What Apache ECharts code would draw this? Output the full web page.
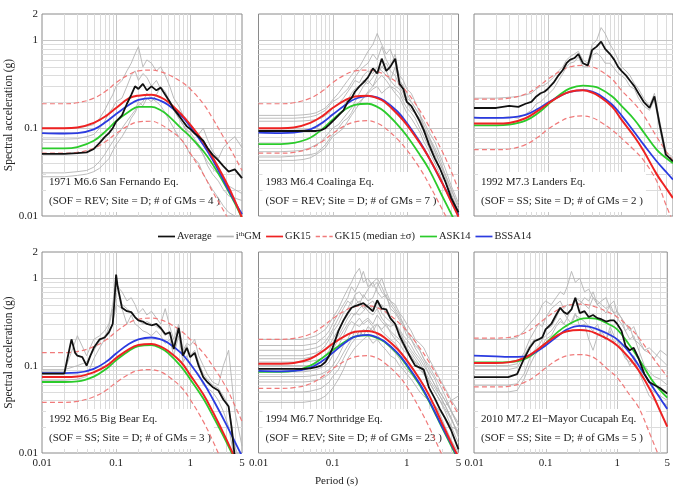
<!DOCTYPE html>
<html><head><meta charset="utf-8">
<script src="https://cdn.jsdelivr.net/npm/echarts@6/dist/echarts.min.js"></script>
<style>html,body{margin:0;padding:0;background:#fff}#c{width:673px;height:491px}</style>
</head><body><div id="c"></div>
<script>
// ---- periods ----
const periodsModel = [0.01,0.02,0.03,0.05,0.075,0.1,0.15,0.2,0.3,0.4,0.5,0.75,1,1.5,2,3,4,5];
const periodsRec = [0.01,0.02,0.03,0.04,0.05,0.06,0.07,0.08,0.09,0.1,0.12,0.14,0.16,0.18,0.2,0.23,0.26,0.3,0.35,0.4,0.46,0.53,0.6,0.7,0.8,0.9,1,1.15,1.3,1.5,1.7,2,2.4,2.8,3.3,4,5];
const periodsBigBearAvg = [0.01,0.02,0.022,0.025,0.028,0.03,0.035,0.04,0.045,0.05,0.06,0.07,0.08,0.09,0.095,0.1,0.105,0.11,0.12,0.14,0.16,0.18,0.2,0.23,0.26,0.3,0.35,0.4,0.46,0.53,0.6,0.7,0.8,0.9,1,1.15,1.3,1.5,1.7,2,2.4,2.8,3.3,3.6,4];
const gridTicksX = [0.02,0.03,0.04,0.05,0.06,0.07,0.08,0.09,0.1,0.2,0.3,0.4,0.5,0.6,0.7,0.8,0.9,1,2,3,4];
const gridTicksY = [0.02,0.03,0.04,0.05,0.06,0.07,0.08,0.09,0.1,0.2,0.3,0.4,0.5,0.6,0.7,0.8,0.9,1];

// ---- 1971 San Fernando ----
const sfGK15 = [0.1,0.1,0.102,0.115,0.14,0.17,0.22,0.235,0.24,0.225,0.2,0.145,0.11,0.07,0.047,0.025,0.015,0.0095];
const sfGK15Up = [0.19,0.19,0.195,0.22,0.27,0.33,0.41,0.45,0.46,0.44,0.41,0.34,0.28,0.19,0.13,0.072,0.047,0.033];
const sfGK15Lo = [0.052,0.052,0.053,0.059,0.072,0.087,0.108,0.118,0.12,0.11,0.098,0.075,0.052,0.03,0.019,0.0105,0.0065,0.0045];
const sfASK14 = [0.059,0.059,0.061,0.072,0.095,0.12,0.155,0.175,0.175,0.16,0.14,0.1,0.08,0.055,0.039,0.022,0.014,0.0095];
const sfBSSA14 = [0.088,0.087,0.088,0.097,0.12,0.145,0.185,0.21,0.22,0.205,0.185,0.14,0.105,0.065,0.044,0.023,0.0145,0.0105];
const sfAvg = [0.051,0.051,0.052,0.053,0.058,0.068,0.079,0.088,0.1,0.119,0.14,0.19,0.24,0.3,0.28,0.32,0.27,0.3,0.27,0.29,0.24,0.2,0.165,0.14,0.12,0.105,0.098,0.087,0.08,0.072,0.06,0.05,0.043,0.037,0.032,0.034,0.027];
const sfGM1 = [0.1,0.1,0.102,0.105,0.11,0.13,0.16,0.2,0.24,0.3,0.35,0.45,0.55,0.7,0.85,0.5,0.6,0.55,0.45,0.5,0.4,0.3,0.22,0.18,0.14,0.12,0.1,0.09,0.085,0.1,0.075,0.055,0.045,0.06,0.07,0.08,0.06];
const sfGM2 = [0.075,0.075,0.076,0.08,0.085,0.1,0.12,0.15,0.17,0.2,0.22,0.3,0.4,0.45,0.35,0.42,0.38,0.3,0.35,0.28,0.25,0.2,0.17,0.13,0.11,0.095,0.09,0.075,0.065,0.05,0.042,0.035,0.03,0.025,0.022,0.02,0.018];
const sfGM3 = [0.031,0.031,0.032,0.033,0.036,0.042,0.05,0.06,0.07,0.08,0.1,0.12,0.14,0.16,0.2,0.18,0.22,0.2,0.24,0.3,0.26,0.2,0.16,0.13,0.11,0.09,0.08,0.07,0.06,0.05,0.038,0.03,0.025,0.02,0.017,0.016,0.015];
const sfGM4 = [0.028,0.028,0.029,0.03,0.032,0.035,0.04,0.045,0.055,0.065,0.08,0.1,0.13,0.15,0.18,0.2,0.25,0.22,0.2,0.18,0.15,0.12,0.1,0.08,0.07,0.06,0.05,0.045,0.04,0.03,0.025,0.02,0.016,0.013,0.011,0.01,0.009];

// ---- 1983 Coalinga ----
const coGK15 = [0.1,0.1,0.102,0.115,0.14,0.17,0.21,0.23,0.235,0.22,0.2,0.145,0.11,0.068,0.046,0.024,0.0145,0.0098];
const coGK15Up = [0.19,0.19,0.195,0.22,0.27,0.33,0.41,0.45,0.46,0.44,0.41,0.33,0.26,0.16,0.105,0.055,0.032,0.02];
const coGK15Lo = [0.052,0.052,0.053,0.059,0.072,0.087,0.108,0.118,0.122,0.114,0.102,0.075,0.057,0.035,0.023,0.012,0.0075,0.005];
const coASK14 = [0.066,0.066,0.068,0.078,0.1,0.125,0.165,0.185,0.19,0.175,0.155,0.11,0.082,0.05,0.034,0.017,0.0105,0.0072];
const coBSSA14 = [0.089,0.088,0.089,0.097,0.118,0.143,0.185,0.215,0.232,0.225,0.205,0.155,0.115,0.07,0.046,0.024,0.015,0.0102];
const coAvg = [0.093,0.093,0.093,0.093,0.093,0.093,0.095,0.1,0.11,0.12,0.14,0.16,0.2,0.22,0.26,0.3,0.33,0.38,0.48,0.42,0.62,0.45,0.5,0.62,0.32,0.28,0.2,0.18,0.15,0.12,0.095,0.065,0.045,0.035,0.025,0.016,0.011];
const coGM1 = [0.14,0.14,0.14,0.142,0.145,0.15,0.16,0.17,0.19,0.21,0.25,0.3,0.35,0.4,0.45,0.5,0.6,0.75,0.9,1.2,0.9,0.7,0.8,0.55,0.4,0.35,0.28,0.25,0.2,0.15,0.1,0.08,0.055,0.04,0.03,0.02,0.013];
const coGM2 = [0.13,0.13,0.13,0.132,0.135,0.14,0.15,0.16,0.18,0.2,0.22,0.25,0.28,0.33,0.38,0.45,0.5,0.55,0.7,0.6,0.85,0.6,0.5,0.7,0.35,0.3,0.22,0.2,0.17,0.14,0.11,0.08,0.06,0.045,0.03,0.02,0.012];
const coGM3 = [0.12,0.12,0.12,0.121,0.123,0.125,0.13,0.14,0.15,0.17,0.19,0.22,0.26,0.3,0.35,0.33,0.4,0.45,0.42,0.5,0.45,0.4,0.35,0.3,0.28,0.22,0.2,0.16,0.15,0.13,0.1,0.075,0.055,0.04,0.028,0.018,0.011];
const coGM4 = [0.095,0.095,0.095,0.096,0.098,0.1,0.11,0.12,0.13,0.14,0.16,0.18,0.21,0.25,0.28,0.3,0.35,0.32,0.38,0.45,0.5,0.55,0.45,0.4,0.3,0.25,0.2,0.18,0.15,0.12,0.09,0.07,0.05,0.035,0.025,0.016,0.01];
const coGM5 = [0.054,0.054,0.055,0.056,0.06,0.065,0.07,0.08,0.09,0.1,0.11,0.13,0.15,0.17,0.2,0.25,0.3,0.35,0.3,0.4,0.5,0.45,0.35,0.5,0.35,0.3,0.25,0.2,0.17,0.14,0.12,0.09,0.07,0.05,0.035,0.022,0.014];
const coGM6 = [0.047,0.047,0.048,0.049,0.05,0.052,0.058,0.065,0.075,0.085,0.1,0.12,0.13,0.15,0.18,0.2,0.22,0.25,0.28,0.3,0.25,0.28,0.3,0.25,0.22,0.18,0.15,0.13,0.11,0.09,0.07,0.055,0.04,0.03,0.02,0.014,0.01];
const coGM7 = [0.043,0.043,0.043,0.044,0.046,0.05,0.055,0.06,0.07,0.08,0.09,0.1,0.12,0.14,0.16,0.19,0.22,0.26,0.3,0.35,0.4,0.35,0.3,0.28,0.25,0.2,0.17,0.15,0.13,0.1,0.08,0.06,0.045,0.035,0.025,0.017,0.011];

// ---- 1992 Landers ----
const laGK15 = [0.113,0.113,0.115,0.13,0.16,0.19,0.235,0.26,0.27,0.255,0.23,0.175,0.125,0.08,0.055,0.03,0.021,0.016];
const laGK15Up = [0.215,0.215,0.22,0.245,0.3,0.36,0.45,0.5,0.52,0.5,0.46,0.36,0.27,0.19,0.14,0.08,0.055,0.042];
const laGK15Lo = [0.057,0.057,0.058,0.065,0.08,0.097,0.12,0.133,0.138,0.132,0.12,0.095,0.077,0.056,0.043,0.025,0.0135,0.0085];
const laASK14 = [0.108,0.108,0.11,0.122,0.15,0.185,0.245,0.285,0.305,0.3,0.285,0.23,0.18,0.125,0.09,0.057,0.046,0.04];
const laBSSA14 = [0.132,0.131,0.132,0.142,0.168,0.195,0.235,0.26,0.272,0.262,0.24,0.185,0.14,0.09,0.065,0.042,0.032,0.026];
const laAvg = [0.17,0.17,0.18,0.175,0.19,0.2,0.23,0.25,0.26,0.28,0.33,0.4,0.46,0.55,0.6,0.63,0.7,0.55,0.52,0.78,0.85,0.97,0.8,0.7,0.6,0.5,0.45,0.4,0.35,0.3,0.25,0.2,0.17,0.23,0.11,0.05,0.042];
const laGM1 = [0.22,0.22,0.225,0.23,0.24,0.25,0.28,0.3,0.31,0.33,0.38,0.45,0.5,0.6,0.65,0.7,0.75,0.6,0.55,0.9,1.0,1.4,1.2,0.9,0.75,0.6,0.5,0.45,0.4,0.32,0.28,0.22,0.18,0.25,0.12,0.055,0.045];
const laGM2 = [0.13,0.13,0.135,0.13,0.145,0.16,0.19,0.2,0.22,0.24,0.28,0.35,0.42,0.5,0.55,0.57,0.65,0.5,0.5,0.68,0.72,0.65,0.55,0.55,0.48,0.42,0.4,0.36,0.3,0.28,0.22,0.18,0.16,0.21,0.1,0.045,0.04];

// ---- 1992 Big Bear ----
const bbGK15 = [0.074,0.074,0.075,0.084,0.1,0.122,0.155,0.172,0.177,0.165,0.148,0.11,0.078,0.047,0.03,0.015,0.0088,0.006];
const bbGK15Up = [0.141,0.141,0.145,0.165,0.2,0.245,0.31,0.34,0.35,0.335,0.31,0.25,0.2,0.14,0.1,0.058,0.035,0.023];
const bbGK15Lo = [0.038,0.038,0.039,0.044,0.053,0.064,0.08,0.088,0.09,0.085,0.076,0.057,0.041,0.023,0.014,0.0065,0.004,0.0028];
const bbASK14 = [0.065,0.065,0.066,0.075,0.093,0.115,0.148,0.167,0.172,0.158,0.14,0.098,0.07,0.042,0.027,0.014,0.0085,0.006];
const bbBSSA14 = [0.082,0.082,0.083,0.092,0.112,0.138,0.178,0.2,0.21,0.2,0.183,0.14,0.105,0.064,0.042,0.022,0.0135,0.0092];
const bbAvg = [0.081,0.081,0.12,0.2,0.14,0.13,0.125,0.1,0.13,0.16,0.2,0.21,0.24,0.3,0.55,1.1,0.8,0.66,0.46,0.42,0.41,0.36,0.33,0.32,0.3,0.29,0.3,0.27,0.23,0.24,0.155,0.27,0.13,0.16,0.125,0.14,0.1,0.074,0.065,0.057,0.052,0.041,0.034,0.02,0.009];
const bbGM1 = [0.085,0.085,0.22,0.13,0.2,0.22,0.25,0.3,0.5,1.0,0.5,0.45,0.4,0.35,0.33,0.3,0.32,0.3,0.28,0.26,0.22,0.25,0.17,0.28,0.14,0.17,0.13,0.15,0.11,0.08,0.07,0.06,0.055,0.045,0.035,0.012,0.007];
const bbGM2 = [0.068,0.068,0.07,0.075,0.12,0.16,0.2,0.28,0.45,0.85,0.7,0.55,0.6,0.5,0.4,0.45,0.38,0.42,0.35,0.3,0.45,0.28,0.2,0.3,0.15,0.18,0.17,0.2,0.13,0.1,0.08,0.065,0.06,0.1,0.15,0.03,0.012];
const bbGM3 = [0.09,0.09,0.1,0.11,0.15,0.19,0.22,0.25,0.3,0.5,0.45,0.3,0.38,0.3,0.28,0.25,0.24,0.22,0.25,0.22,0.18,0.2,0.13,0.22,0.11,0.13,0.1,0.09,0.08,0.06,0.055,0.05,0.04,0.03,0.02,0.008,0.006];

// ---- 1994 Northridge ----
const nrGK15 = [0.105,0.105,0.107,0.12,0.148,0.178,0.22,0.245,0.25,0.235,0.21,0.155,0.115,0.07,0.046,0.022,0.013,0.009];
const nrGK15Up = [0.2,0.2,0.205,0.23,0.285,0.345,0.43,0.475,0.485,0.46,0.42,0.32,0.25,0.16,0.11,0.06,0.038,0.028];
const nrGK15Lo = [0.055,0.055,0.056,0.062,0.076,0.092,0.114,0.126,0.13,0.122,0.108,0.079,0.058,0.032,0.02,0.0095,0.0058,0.004];
const nrASK14 = [0.085,0.085,0.087,0.1,0.125,0.15,0.19,0.215,0.222,0.207,0.187,0.137,0.1,0.06,0.039,0.0195,0.012,0.0082];
const nrBSSA14 = [0.087,0.086,0.087,0.095,0.115,0.14,0.185,0.215,0.225,0.21,0.19,0.14,0.103,0.062,0.04,0.02,0.0125,0.0085];
const nrAvg = [0.092,0.092,0.092,0.092,0.093,0.096,0.1,0.11,0.13,0.16,0.25,0.33,0.4,0.46,0.48,0.5,0.52,0.47,0.42,0.56,0.45,0.44,0.35,0.3,0.22,0.18,0.15,0.12,0.1,0.095,0.09,0.056,0.042,0.032,0.025,0.018,0.011];
const nrGM1 = [0.2,0.2,0.2,0.2,0.21,0.22,0.24,0.26,0.3,0.35,0.45,0.6,0.75,0.9,1.1,1.3,0.9,1.0,0.8,0.9,0.7,0.6,0.55,0.5,0.4,0.35,0.3,0.25,0.2,0.18,0.16,0.12,0.09,0.07,0.055,0.04,0.03];
const nrGM2 = [0.17,0.17,0.17,0.17,0.175,0.18,0.2,0.22,0.25,0.3,0.4,0.5,0.6,0.8,0.7,0.9,1.2,0.8,0.9,1.0,0.8,0.6,0.5,0.42,0.35,0.3,0.25,0.2,0.17,0.15,0.12,0.09,0.07,0.05,0.04,0.03,0.02];
const nrGM3 = [0.15,0.15,0.15,0.15,0.155,0.16,0.17,0.19,0.22,0.26,0.35,0.45,0.55,0.5,0.65,0.7,0.6,0.75,0.9,0.7,0.6,0.65,0.45,0.4,0.33,0.28,0.22,0.2,0.16,0.13,0.11,0.08,0.06,0.045,0.035,0.025,0.015];
const nrGM4 = [0.13,0.13,0.13,0.13,0.135,0.14,0.15,0.17,0.2,0.24,0.3,0.4,0.45,0.55,0.6,0.5,0.65,0.55,0.6,0.8,1.0,0.7,0.55,0.45,0.38,0.3,0.25,0.22,0.19,0.15,0.12,0.1,0.075,0.06,0.045,0.03,0.02];
const nrGM5 = [0.12,0.12,0.12,0.12,0.125,0.13,0.14,0.15,0.17,0.2,0.26,0.32,0.38,0.45,0.5,0.55,0.45,0.5,0.55,0.45,0.5,0.4,0.35,0.3,0.26,0.22,0.2,0.17,0.14,0.12,0.1,0.08,0.06,0.05,0.04,0.03,0.022];
const nrGM6 = [0.11,0.11,0.11,0.11,0.112,0.115,0.12,0.13,0.15,0.18,0.22,0.28,0.35,0.4,0.38,0.45,0.5,0.42,0.38,0.45,0.35,0.3,0.28,0.3,0.25,0.2,0.16,0.14,0.12,0.1,0.085,0.065,0.05,0.04,0.03,0.02,0.013];
const nrGM7 = [0.1,0.1,0.1,0.1,0.1,0.105,0.11,0.12,0.13,0.15,0.2,0.25,0.3,0.35,0.4,0.38,0.42,0.5,0.45,0.55,0.4,0.35,0.32,0.28,0.24,0.2,0.18,0.15,0.13,0.11,0.09,0.07,0.055,0.045,0.035,0.025,0.016];
const nrGM8 = [0.085,0.085,0.085,0.085,0.087,0.09,0.095,0.1,0.11,0.13,0.17,0.22,0.28,0.32,0.3,0.35,0.3,0.33,0.28,0.3,0.25,0.22,0.2,0.18,0.15,0.13,0.12,0.1,0.085,0.07,0.06,0.045,0.035,0.028,0.02,0.014,0.01];
const nrGM9 = [0.075,0.075,0.075,0.075,0.076,0.078,0.08,0.085,0.09,0.1,0.13,0.17,0.2,0.25,0.3,0.28,0.32,0.35,0.3,0.38,0.32,0.28,0.25,0.22,0.2,0.17,0.15,0.13,0.11,0.1,0.08,0.065,0.05,0.04,0.032,0.024,0.017];
const nrGM10 = [0.065,0.065,0.065,0.065,0.066,0.068,0.07,0.075,0.08,0.09,0.11,0.14,0.17,0.2,0.25,0.22,0.26,0.24,0.28,0.22,0.2,0.18,0.16,0.14,0.12,0.1,0.09,0.08,0.07,0.06,0.05,0.04,0.03,0.024,0.018,0.013,0.009];
const nrGM11 = [0.05,0.05,0.05,0.05,0.051,0.053,0.055,0.06,0.065,0.075,0.09,0.12,0.15,0.18,0.2,0.25,0.22,0.28,0.25,0.3,0.26,0.3,0.24,0.2,0.18,0.15,0.14,0.12,0.11,0.09,0.08,0.065,0.05,0.04,0.035,0.04,0.045];
const nrGM12 = [0.038,0.038,0.038,0.038,0.039,0.04,0.042,0.045,0.05,0.055,0.07,0.09,0.12,0.14,0.16,0.18,0.2,0.22,0.18,0.2,0.17,0.15,0.13,0.12,0.1,0.09,0.08,0.07,0.06,0.05,0.045,0.04,0.035,0.03,0.025,0.02,0.018];

// ---- 2010 El-Mayor Cucapah ----
const emGK15 = [0.107,0.107,0.109,0.122,0.15,0.18,0.225,0.248,0.256,0.25,0.235,0.2,0.17,0.12,0.088,0.05,0.03,0.02];
const emGK15Up = [0.207,0.207,0.21,0.235,0.29,0.35,0.44,0.49,0.505,0.495,0.47,0.41,0.36,0.27,0.21,0.13,0.095,0.075];
const emGK15Lo = [0.057,0.057,0.058,0.064,0.078,0.094,0.118,0.13,0.134,0.13,0.12,0.09,0.073,0.046,0.033,0.015,0.0085,0.006];
const emASK14 = [0.109,0.109,0.11,0.118,0.145,0.18,0.245,0.29,0.34,0.35,0.345,0.3,0.26,0.17,0.12,0.07,0.052,0.043];
const emBSSA14 = [0.13,0.128,0.126,0.127,0.145,0.17,0.22,0.26,0.285,0.28,0.265,0.23,0.2,0.14,0.1,0.06,0.042,0.032];
const emAvg = [0.074,0.074,0.074,0.08,0.12,0.16,0.19,0.2,0.21,0.26,0.3,0.38,0.46,0.41,0.39,0.44,0.6,0.4,0.42,0.36,0.38,0.35,0.34,0.32,0.33,0.33,0.3,0.25,0.17,0.15,0.16,0.12,0.08,0.065,0.06,0.055,0.048];
const emGM1 = [0.2,0.2,0.2,0.21,0.25,0.3,0.35,0.4,0.5,0.55,0.5,0.6,0.7,0.65,0.8,1.2,0.9,1.0,0.7,0.75,0.6,0.55,0.5,0.45,0.5,0.4,0.35,0.3,0.25,0.28,0.2,0.18,0.15,0.14,0.12,0.15,0.13];
const emGM2 = [0.1,0.1,0.1,0.105,0.14,0.2,0.25,0.3,0.28,0.35,0.45,0.5,0.55,0.45,0.5,0.48,0.6,0.55,0.5,0.45,0.6,0.5,0.45,0.4,0.5,0.55,0.4,0.35,0.25,0.2,0.22,0.15,0.1,0.085,0.075,0.07,0.06];
const emGM3 = [0.06,0.06,0.06,0.062,0.08,0.12,0.15,0.17,0.2,0.22,0.25,0.3,0.35,0.3,0.28,0.32,0.4,0.28,0.3,0.2,0.15,0.22,0.25,0.2,0.28,0.22,0.2,0.17,0.13,0.1,0.12,0.085,0.06,0.045,0.04,0.04,0.035];
const emGM4 = [0.05,0.05,0.05,0.052,0.07,0.1,0.13,0.15,0.17,0.2,0.22,0.28,0.32,0.3,0.35,0.3,0.38,0.35,0.32,0.28,0.25,0.3,0.22,0.2,0.25,0.18,0.2,0.15,0.12,0.11,0.13,0.1,0.07,0.055,0.05,0.045,0.04];
const emGM5 = [0.09,0.09,0.09,0.095,0.13,0.17,0.2,0.2,0.22,0.26,0.28,0.35,0.45,0.4,0.35,0.45,0.55,0.5,0.6,0.55,0.7,0.5,0.55,0.6,0.45,0.4,0.42,0.35,0.3,0.25,0.28,0.2,0.15,0.16,0.14,0.12,0.1];

// ---- panel titles ----
const eventNames = ['1971 M6.6 San Fernando Eq.','1983 M6.4 Coalinga Eq.','1992 M7.3 Landers Eq.','1992 M6.5 Big Bear Eq.','1994 M6.7 Northridge Eq.','2010 M7.2 El\u2212Mayor Cucapah Eq.'];
const eventInfo = ['(SOF = REV; Site = D; # of GMs = 4 )','(SOF = REV; Site = D; # of GMs = 7 )','(SOF = SS; Site = D; # of GMs = 2 )','(SOF = SS; Site = D; # of GMs = 3 )','(SOF = REV; Site = D; # of GMs = 23 )','(SOF = SS; Site = D; # of GMs = 5 )'];
const legendNames = ['Average', 'ith GM', 'GK15', 'GK15 (median ±σ)', 'ASK14', 'BSSA14'];

const panels = [
  {avgT: periodsRec, avg: sfAvg, gms: [sfGM1,sfGM2,sfGM3,sfGM4], gk: sfGK15, up: sfGK15Up, lo: sfGK15Lo, ask: sfASK14, bssa: sfBSSA14},
  {avgT: periodsRec, avg: coAvg, gms: [coGM1,coGM2,coGM3,coGM4,coGM5,coGM6,coGM7], gk: coGK15, up: coGK15Up, lo: coGK15Lo, ask: coASK14, bssa: coBSSA14},
  {avgT: periodsRec, avg: laAvg, gms: [laGM1,laGM2], gk: laGK15, up: laGK15Up, lo: laGK15Lo, ask: laASK14, bssa: laBSSA14},
  {avgT: periodsBigBearAvg, avg: bbAvg, gms: [bbGM1,bbGM2,bbGM3], gk: bbGK15, up: bbGK15Up, lo: bbGK15Lo, ask: bbASK14, bssa: bbBSSA14},
  {avgT: periodsRec, avg: nrAvg, gms: [nrGM1,nrGM2,nrGM3,nrGM4,nrGM5,nrGM6,nrGM7,nrGM8,nrGM9,nrGM10,nrGM11,nrGM12], gk: nrGK15, up: nrGK15Up, lo: nrGK15Lo, ask: nrASK14, bssa: nrBSSA14},
  {avgT: periodsRec, avg: emAvg, gms: [emGM1,emGM2,emGM3,emGM4,emGM5], gk: emGK15, up: emGK15Up, lo: emGK15Lo, ask: emASK14, bssa: emBSSA14}
];

const FONT = 'Liberation Serif';
const X_MIN = 0.01, X_MAX = 5, Y_MIN = 0.01, Y_MAX = 2;
const gridBoxes = [
  {left: 42, top: 14, height: 202}, {left: 258.5, top: 14, height: 202}, {left: 474, top: 14, height: 202},
  {left: 42, top: 252, height: 201}, {left: 258.5, top: 252, height: 201}, {left: 474, top: 252, height: 201}
];
const C = {avg: '#111111', gm: '#b4b4b4', gk: '#ee2222', sig: '#f07a7a', ask: '#2bcb2b', bssa: '#2b3be0'};

function zip(ts, vs) { const n = Math.min(ts.length, vs.length); const out = []; for (let i = 0; i < n; i++) out.push([ts[i], vs[i]]); return out; }
const fmt = v => String(parseFloat(Number(v).toPrecision(6)));

const grids = [], xAxes = [], yAxes = [], series = [], graphics = [];
gridBoxes.forEach((g, i) => {
  grids.push({left: g.left, top: g.top, width: 200, height: g.height, show: true, borderColor: '#8a8a8a', borderWidth: 1, backgroundColor: '#fff'});
  xAxes.push({type: 'log', logBase: 10, gridIndex: i, min: X_MIN, max: X_MAX,
    axisLine: {show: false}, axisTick: {show: false}, splitLine: {show: false},
    axisLabel: {show: i >= 3, fontFamily: FONT, fontSize: 11, color: '#222', margin: 5, formatter: fmt, showMinLabel: true, showMaxLabel: true}});
  yAxes.push({type: 'log', logBase: 10, gridIndex: i, min: Y_MIN, max: Y_MAX,
    axisLine: {show: false}, axisTick: {show: false}, splitLine: {show: false},
    axisLabel: {show: i % 3 === 0, fontFamily: FONT, fontSize: 11, color: '#222', margin: 4, formatter: fmt, showMinLabel: true, showMaxLabel: true},
    name: i % 3 === 0 ? 'Spectral acceleration (g)' : '', nameLocation: 'middle', nameGap: 25,
    nameTextStyle: {fontFamily: FONT, fontSize: 11.5, color: '#222'}});

  // log-spaced grid lines drawn through the axes' scales
  series.push({type: 'custom', name: 'gx' + i, xAxisIndex: i, yAxisIndex: i, z: 0, silent: true, animation: false,
    data: gridTicksX.map(v => [v, Y_MAX]),
    renderItem: (params, api) => { const v = api.value(0); const a = api.coord([v, Y_MAX]); const b = api.coord([v, Y_MIN]);
      return {type: 'line', shape: {x1: Math.round(a[0]) + 0.5, y1: a[1], x2: Math.round(b[0]) + 0.5, y2: b[1]}, style: {stroke: v === 0.1 || v === 1 ? '#c6c6c6' : '#dcdcdc', lineWidth: 1}}; }});
  series.push({type: 'custom', name: 'gy' + i, xAxisIndex: i, yAxisIndex: i, z: 0, silent: true, animation: false,
    data: gridTicksY.map(v => [X_MIN, v]),
    renderItem: (params, api) => { const v = api.value(1); const a = api.coord([X_MIN, v]); const b = api.coord([X_MAX, v]);
      return {type: 'line', shape: {x1: a[0], y1: Math.round(a[1]) + 0.5, x2: b[0], y2: Math.round(b[1]) + 0.5}, style: {stroke: v === 0.1 || v === 1 ? '#c6c6c6' : '#dcdcdc', lineWidth: 1}}; }});

  const p = panels[i];
  const base = {type: 'line', xAxisIndex: i, yAxisIndex: i, symbol: 'none', showSymbol: false, animation: false, silent: true, z: 3};
  p.gms.forEach(gm => series.push(Object.assign({}, base, {name: 'ith GM', data: zip(periodsRec, gm), lineStyle: {color: C.gm, width: 0.9}, itemStyle: {color: C.gm}})));
  [p.up, p.lo].forEach(d => series.push(Object.assign({}, base, {name: 'GK15 (median ±σ)', smooth: 0.4, data: zip(periodsModel, d), lineStyle: {color: C.sig, width: 1.2, type: [5, 3]}, itemStyle: {color: C.sig}})));
  series.push(Object.assign({}, base, {name: 'ASK14', smooth: 0.4, data: zip(periodsModel, p.ask), lineStyle: {color: C.ask, width: 1.8}, itemStyle: {color: C.ask}}));
  series.push(Object.assign({}, base, {name: 'BSSA14', smooth: 0.4, data: zip(periodsModel, p.bssa), lineStyle: {color: C.bssa, width: 1.8}, itemStyle: {color: C.bssa}}));
  series.push(Object.assign({}, base, {name: 'GK15', smooth: 0.4, data: zip(periodsModel, p.gk), lineStyle: {color: C.gk, width: 2}, itemStyle: {color: C.gk}}));
  series.push(Object.assign({}, base, {name: 'Average', data: zip(p.avgT, p.avg), lineStyle: {color: C.avg, width: 1.8}, itemStyle: {color: C.avg}}));

  graphics.push({type: 'text', left: g.left + 4, top: g.top + g.height - 44, z: 1,
    style: {text: eventNames[i] + '\n' + eventInfo[i], font: '11px "Liberation Serif"', fill: '#222', lineHeight: 19,
      backgroundColor: '#fff', padding: [1, 3, 1, 3]}});
});

graphics.push({type: 'text', left: 'center', top: 476, z: 1, style: {text: 'Period (s)', font: '11px "Liberation Serif"', fill: '#222'}});

const SOLID = 'path://M0,0H20V2H0Z';
const DASHED = 'path://M0,0H5V2H0Z M8,0H13V2H8Z M16,0H20V2H16Z';
const option = {
  backgroundColor: '#fff',
  animation: false,
  grid: grids, xAxis: xAxes, yAxis: yAxes, series: series, graphic: graphics,
  legend: {left: 153, top: 226, itemWidth: 17, itemHeight: 2, itemGap: 5, selectedMode: false,
    itemStyle: {borderWidth: 0},
    data: legendNames.map(n => ({name: n, icon: n === 'GK15 (median ±σ)' ? DASHED : SOLID})),
    formatter: n => n === 'ith GM' ? '{n|i}{s|th}{n|GM}' : n,
    textStyle: {fontFamily: FONT, fontSize: 10.5, color: '#222', padding: [0, 0, 0, -3],
      rich: {n: {fontFamily: FONT, fontSize: 10.5, color: '#222'}, s: {fontFamily: FONT, fontSize: 7, color: '#222', verticalAlign: 'top', lineHeight: 8}}}}
};
const chart = echarts.init(document.getElementById('c'), null, {renderer: 'canvas'});
chart.setOption(option);
</script></body></html>
